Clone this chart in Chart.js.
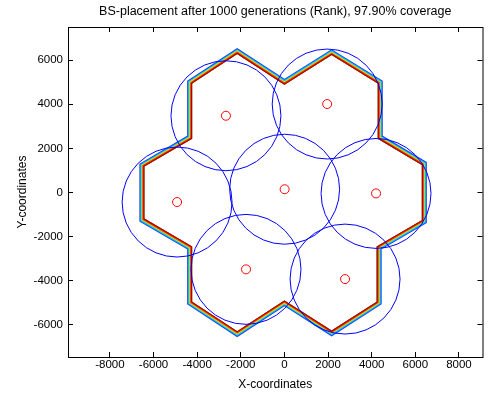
<!DOCTYPE html>
<html>
<head>
<meta charset="utf-8">
<script src="https://cdn.jsdelivr.net/npm/chart.js@4"></script>
<style>
  html, body { margin: 0; padding: 0; background: #fff; }
  canvas { display: block; }
</style>
</head>
<body>
<canvas id="bsChart" width="488" height="396"></canvas>
<script>
// Base station positions (red markers) and their coverage radius
const bsX = [-2680, 1960, 10, -4920, 4200, -1760, 2780];
const bsY = [3480, 4010, 150, -430, -40, -3480, -3920];
const coverRadius = 2520;

// Service area outline (inner edge of the contour band), clockwise
const outlineX = [-4230, -4230, -2165, 0, 2165, 4280, 4280, 6300, 6300, 4230, 4230, 2165, 0, -2165, -4230, -4230, -6420, -6420];
const outlineY = [2442, 4942, 6280, 4885, 6230, 4942, 2442, 1250, -1250, -2442, -4942, -6250, -4885, -6280, -4942, -2442, -1180, 1180];

// Contour levels drawn around the outline, outer to inner
const bandColors = ['#2040ff', '#00c8ff', '#c8e600', '#ff3000', '#a00000'];

// Axes
const xTicks = [-8000, -6000, -4000, -2000, 0, 2000, 4000, 6000, 8000];
const yTicks = [-6000, -4000, -2000, 0, 2000, 4000, 6000];
const xRange = [-9920, 9080];
const yRange = [-7450, 7500];

const tickFont = { family: '"Liberation Sans", Arial, sans-serif', size: 11.5 };
const labelFont = { family: '"Liberation Sans", Arial, sans-serif', size: 12 };
const tickLen = 5;

const bsPoints = bsX.map((x, i) => ({ x, y: bsY[i] }));
const outlinePoints = outlineX.map((x, i) => ({ x, y: outlineY[i] }));
outlinePoints.push(outlinePoints[0]);

// Only keep the part of the thick band lines that lies outside the outline
const bandClip = {
    id: 'bandClip',
    beforeDatasetDraw(chart, args) {
        if (!chart.data.datasets[args.index].band) return;
        const { ctx, scales: { x, y } } = chart;
        ctx.save();
        ctx.beginPath();
        ctx.rect(0, 0, chart.width, chart.height);
        outlineX.forEach((v, i) => {
            const px = x.getPixelForValue(v);
            const py = y.getPixelForValue(outlineY[i]);
            if (i === 0) ctx.moveTo(px, py); else ctx.lineTo(px, py);
        });
        ctx.closePath();
        ctx.clip('evenodd');
    },
    afterDatasetDraw(chart, args) {
        if (chart.data.datasets[args.index].band) chart.ctx.restore();
    }
};

// Box around the plot with inward tick marks on all four sides
const boxAxes = {
    id: 'boxAxes',
    afterDraw(chart) {
        const { ctx, chartArea: a, scales: { x, y } } = chart;
        ctx.save();
        ctx.strokeStyle = '#000';
        ctx.lineWidth = 1;
        ctx.beginPath();
        xTicks.forEach(v => {
            const px = Math.floor(x.getPixelForValue(v)) + 0.5;
            ctx.moveTo(px, a.bottom); ctx.lineTo(px, a.bottom - tickLen);
            ctx.moveTo(px, a.top); ctx.lineTo(px, a.top + tickLen);
        });
        yTicks.forEach(v => {
            const py = Math.floor(y.getPixelForValue(v)) + 0.5;
            ctx.moveTo(a.left, py); ctx.lineTo(a.left + tickLen, py);
            ctx.moveTo(a.right, py); ctx.lineTo(a.right - tickLen, py);
        });
        ctx.stroke();
        ctx.strokeRect(a.left + 0.5, a.top + 0.5, a.right - a.left, a.bottom - a.top);
        ctx.restore();
    }
};

const circleRadius = ctx => {
    const s = ctx.chart.scales.x;
    return s.getPixelForValue(coverRadius) - s.getPixelForValue(0);
};

const datasets = [
    {
        data: bsPoints,
        pointRadius: 4.5,
        pointHoverRadius: 4.5,
        pointBackgroundColor: 'rgba(0,0,0,0)',
        pointBorderColor: '#ff0000',
        pointBorderWidth: 1
    },
    {
        data: bsPoints,
        pointRadius: circleRadius,
        pointHoverRadius: circleRadius,
        pointBackgroundColor: 'rgba(0,0,0,0)',
        pointBorderColor: '#0000ff',
        pointBorderWidth: 1
    }
];
// inner colour first so it ends up on top
bandColors.slice().reverse().forEach((c, i) => {
    datasets.push({
        band: true,
        data: outlinePoints,
        showLine: true,
        pointRadius: 0,
        borderColor: c,
        borderWidth: 2 + i * 2,
        borderJoinStyle: 'miter',
        tension: 0
    });
});

new Chart(document.getElementById('bsChart'), {
    type: 'scatter',
    data: { datasets },
    plugins: [bandClip, boxAxes],
    options: {
        responsive: false,
        animation: false,
        events: [],
        layout: { padding: { left: 0, right: 1, top: 0, bottom: 0 } },
        plugins: {
            legend: { display: false },
            tooltip: { enabled: false },
            title: {
                display: true,
                fullSize: false,
                text: 'BS-placement after 1000 generations (Rank), 97.90% coverage',
                color: '#000',
                font: { ...labelFont, size: 12.5, weight: 'normal' },
                padding: { top: 4.5, bottom: 7.5 }
            }
        },
        scales: {
            x: {
                type: 'linear',
                min: xRange[0],
                max: xRange[1],
                afterBuildTicks: s => { s.ticks = xTicks.map(v => ({ value: v })); },
                afterFit: s => { s.height = 39; },
                grid: { display: false, drawTicks: false },
                border: { display: false },
                ticks: { color: '#000', font: tickFont, padding: 1, maxRotation: 0, autoSkip: false, callback: v => String(v) },
                title: { display: true, text: 'X-coordinates', color: '#000', font: labelFont, padding: { top: 0, bottom: 4 } }
            },
            y: {
                type: 'linear',
                min: yRange[0],
                max: yRange[1],
                afterBuildTicks: s => { s.ticks = yTicks.map(v => ({ value: v })); },
                afterFit: s => { s.width = 68; },
                grid: { display: false, drawTicks: false },
                border: { display: false },
                ticks: { color: '#000', font: tickFont, padding: 5, autoSkip: false, callback: v => String(v) },
                title: { display: true, text: 'Y-coordinates', color: '#000', font: labelFont, padding: { top: 15, bottom: 0 } }
            }
        }
    }
});
</script>
</body>
</html>
